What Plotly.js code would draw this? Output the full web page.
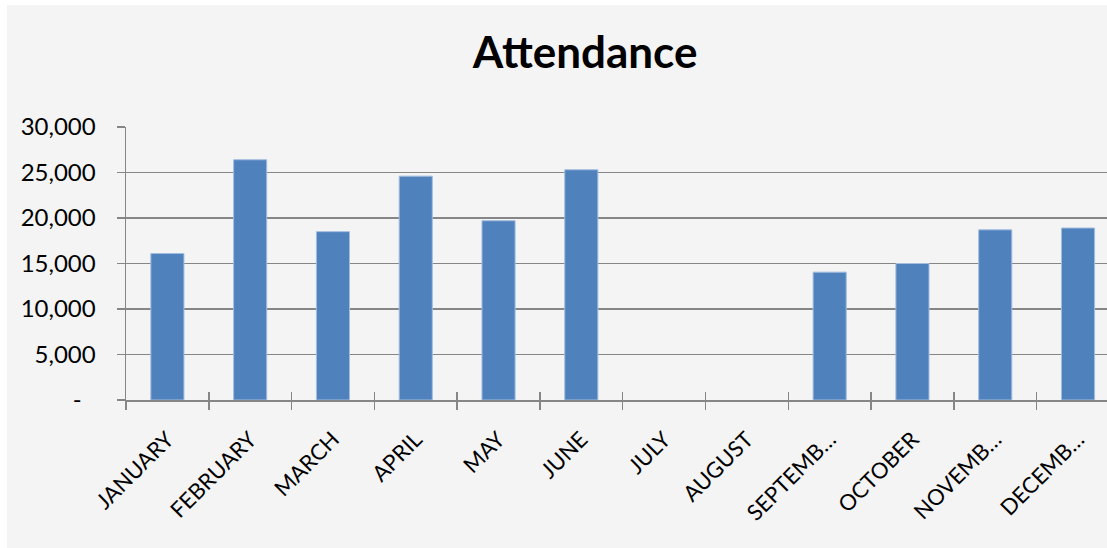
<!DOCTYPE html>
<html>
<head>
<meta charset="utf-8">
<script src="https://cdn.plot.ly/plotly-3.0.1.min.js"></script>
<style>
  html, body { margin: 0; padding: 0; background: #ffffff; }
  #chart { position: absolute; left: 7px; top: 5px; width: 1100px; height: 543px; }
</style>
</head>
<body>
<div id="chart"></div>
<script>
const months = ['JANUARY','FEBRUARY','MARCH','APRIL','MAY','JUNE','JULY','AUGUST','SEPTEMBER','OCTOBER','NOVEMBER','DECEMBER'];
const monthLabels = ['JANUARY','FEBRUARY','MARCH','APRIL','MAY','JUNE','JULY','AUGUST','SEPTEMB…','OCTOBER','NOVEMB…','DECEMB…'];
const attendance = [16100, 26400, 18500, 24600, 19700, 25300, null, null, 14050, 15000, 18700, 18900];
const yTickVals = [0, 5000, 10000, 15000, 20000, 25000, 30000];
const yTickText = ['-\u2007', '5,000', '10,000', '15,000', '20,000', '25,000', '30,000'];

const font = 'Lato, "Open Sans", sans-serif';
const grid = '#868686';

const traces = [
  {
    type: 'bar',
    x: months,
    y: attendance,
    width: 0.4,
    marker: { color: '#4f81bd', line: { color: '#a3bddf', width: 1 } },
    hoverinfo: 'none'
  },
  {
    type: 'scatter',
    mode: 'none',
    x: months,
    y: attendance,
    xaxis: 'x2',
    yaxis: 'y',
    hoverinfo: 'none',
    showlegend: false
  }
];

const layout = {
  width: 1100,
  height: 543,
  margin: { l: 119, r: 0, t: 122, b: 148 },
  paper_bgcolor: '#f4f4f4',
  plot_bgcolor: '#f4f4f4',
  showlegend: false,
  bargap: 0.6,
  title: {
    text: '<b>Attendance</b>',
    font: { family: font, size: 44, color: '#000000' },
    xref: 'container', x: 0.5255, xanchor: 'center',
    yref: 'container', y: 0.912, yanchor: 'middle'
  },
  xaxis: {
    type: 'category',
    range: [-0.5, 11.35],
    tickvals: months,
    ticktext: monthLabels,
    tickangle: -45,
    tickson: 'boundaries',
    ticks: 'outside',
    ticklen: 8,
    tickwidth: 1.5,
    tickcolor: grid,
    showline: true,
    linecolor: grid,
    linewidth: 1.8,
    showgrid: false,
    zeroline: false,
    tickfont: { family: font, size: 22, color: '#000000' },
    ticklabelstandoff: 16,
    fixedrange: true
  },
  xaxis2: {
    type: 'category',
    overlaying: 'x',
    matches: 'x',
    anchor: 'y',
    side: 'bottom',
    tickvals: months,
    tickson: 'boundaries',
    ticks: 'inside',
    ticklen: 8,
    tickwidth: 1.5,
    tickcolor: grid,
    showticklabels: false,
    showline: false,
    showgrid: false,
    zeroline: false
  },
  yaxis: {
    range: [0, 30000],
    tickvals: yTickVals,
    ticktext: yTickText,
    ticks: 'outside',
    ticklen: 8,
    tickwidth: 1.5,
    tickcolor: grid,
    showline: true,
    linecolor: grid,
    linewidth: 1.5,
    showgrid: true,
    gridcolor: grid,
    gridwidth: 1.5,
    zeroline: false,
    tickfont: { family: font, size: 24, color: '#000000' },
    ticklabelstandoff: 16,
    fixedrange: true
  }
};

Plotly.newPlot('chart', traces, layout, { displayModeBar: false, staticPlot: true });
</script>
</body>
</html>
